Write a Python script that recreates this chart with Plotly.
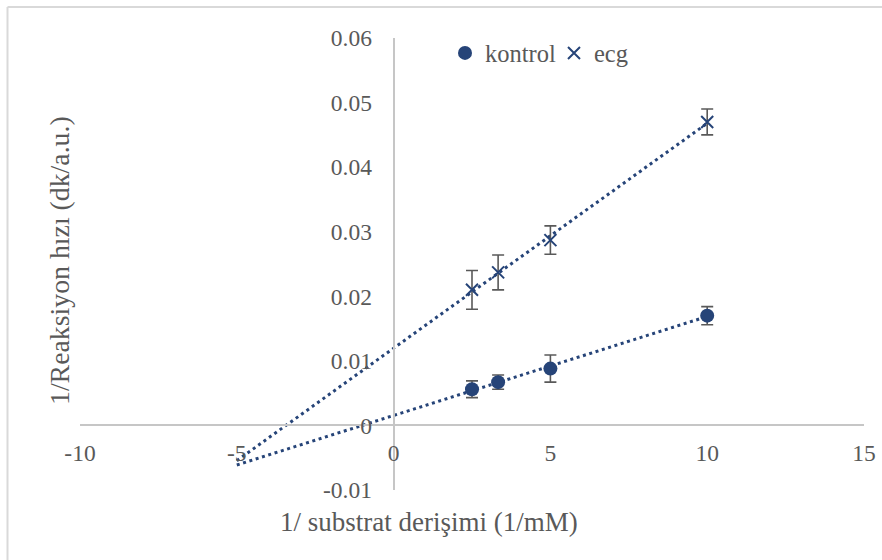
import numpy as np
import plotly.graph_objects as go

# Lineweaver-Burk data: 1/[S] (1/mM) vs 1/v (dk/a.u.)
inv_substrate = [2.5, 3.333, 5.0, 10.0]
kontrol_vals = [0.0056, 0.0067, 0.0088, 0.0170]
kontrol_err = [0.0013, 0.0011, 0.0021, 0.0014]
ecg_vals = [0.0210, 0.0237, 0.0287, 0.0470]
ecg_err = [0.0030, 0.0027, 0.0022, 0.0020]

x_ticks = [-10, -5, 0, 5, 10, 15]
x_tick_text = ["-10", "-5", "0", "5", "10", "15"]
y_ticks = [-0.01, 0, 0.01, 0.02, 0.03, 0.04, 0.05, 0.06]
y_tick_text = ["-0.01", "0", "0.01", "0.02", "0.03", "0.04", "0.05", "0.06"]

trend_start = -5.0  # backward forecast of the linear trendlines

BLUE = "#264478"
GREY_TXT = "#595959"
AXIS = "#c6c6c6"
FONT = "Liberation Serif, Times New Roman, serif"

X_RANGE = [-10, 15]
Y_RANGE = [-0.01, 0.06]

# plot-area geometry (px)
W, H = 882, 560
ML, MR, MT, MB = 80, 18, 38, 70
PW, PH = W - ML - MR, H - MT - MB


def px_x(px):
    return (px - ML) / PW


def px_y(py):
    return (H - MB - py) / PH


fig = go.Figure()


def trend(xs, ys):
    slope, intercept = np.polyfit(xs, ys, 1)
    tx = np.array([trend_start, max(xs)])
    return tx, slope * tx + intercept


for name, vals in (("kontrol", kontrol_vals), ("ecg", ecg_vals)):
    tx, ty = trend(inv_substrate, vals)
    fig.add_trace(go.Scatter(
        x=tx, y=ty, mode="lines", showlegend=False, hoverinfo="skip",
        line=dict(color=BLUE, width=3, dash="3px,3.6px"),
    ))

fig.add_trace(go.Scatter(
    x=inv_substrate, y=kontrol_vals, name="kontrol", mode="markers",
    marker=dict(symbol="circle", size=14, color=BLUE),
    error_y=dict(type="data", array=kontrol_err, visible=True,
                 color=GREY_TXT, thickness=1.6, width=6),
))
fig.add_trace(go.Scatter(
    x=inv_substrate, y=ecg_vals, name="ecg", mode="markers",
    marker=dict(symbol="x-thin-open", size=12, color=BLUE,
                line=dict(color=BLUE, width=2)),
    error_y=dict(type="data", array=ecg_err, visible=True,
                 color=GREY_TXT, thickness=1.6, width=6),
))

# axes cross at the origin
x_cross = (0 - X_RANGE[0]) / (X_RANGE[1] - X_RANGE[0])
y_cross = (0 - Y_RANGE[0]) / (Y_RANGE[1] - Y_RANGE[0])

fig.update_layout(
    template="none",
    width=W, height=H,
    margin=dict(l=ML, r=MR, t=MT, b=MB),
    paper_bgcolor="white", plot_bgcolor="white",
    font=dict(family=FONT, size=23, color=GREY_TXT),
    xaxis=dict(
        range=X_RANGE, tickvals=x_ticks, ticktext=x_tick_text,
        showgrid=False, zeroline=False, automargin=False,
        showline=True, linecolor=AXIS, linewidth=2,
        anchor="free", position=y_cross, ticks="",
        ticklabelstandoff=6,
        tickfont=dict(family=FONT, size=23.5, color=GREY_TXT),
    ),
    yaxis=dict(
        range=Y_RANGE, tickvals=y_ticks, ticktext=y_tick_text,
        showgrid=False, zeroline=False, automargin=False,
        showline=True, linecolor=AXIS, linewidth=2,
        anchor="free", position=x_cross, ticks="",
        ticklabelstandoff=16,
        tickfont=dict(family=FONT, size=23.5, color=GREY_TXT),
    ),
    legend=dict(
        orientation="h", x=px_x(445), y=px_y(53),
        xanchor="left", yanchor="middle",
        font=dict(family=FONT, size=24.5, color=GREY_TXT),
        bgcolor="rgba(0,0,0,0)", itemwidth=30,
        entrywidth=64, entrywidthmode="pixels",
    ),
    showlegend=True,
    annotations=[
        dict(text="1/ substrat derişimi (1/mM)", xref="paper", yref="paper",
             x=px_x(429), y=px_y(522), showarrow=False,
             xanchor="center", yanchor="middle",
             font=dict(family=FONT, size=27, color=GREY_TXT)),
        dict(text="1/Reaksiyon hızı (dk/a.u.)", xref="paper", yref="paper",
             x=px_x(59), y=px_y(261), showarrow=False,
             textangle=-90, xanchor="center", yanchor="middle",
             font=dict(family=FONT, size=27.8, color=GREY_TXT)),
    ],
    shapes=[
        dict(type="line", xref="paper", yref="paper",
             x0=px_x(7.5), x1=px_x(890), y0=px_y(7), y1=px_y(7),
             line=dict(color="#d9d9d9", width=2)),
        dict(type="line", xref="paper", yref="paper",
             x0=px_x(7.5), x1=px_x(7.5), y0=px_y(7), y1=px_y(570),
             line=dict(color="#d9d9d9", width=2)),
    ],
)

fig.write_html("out.html")
